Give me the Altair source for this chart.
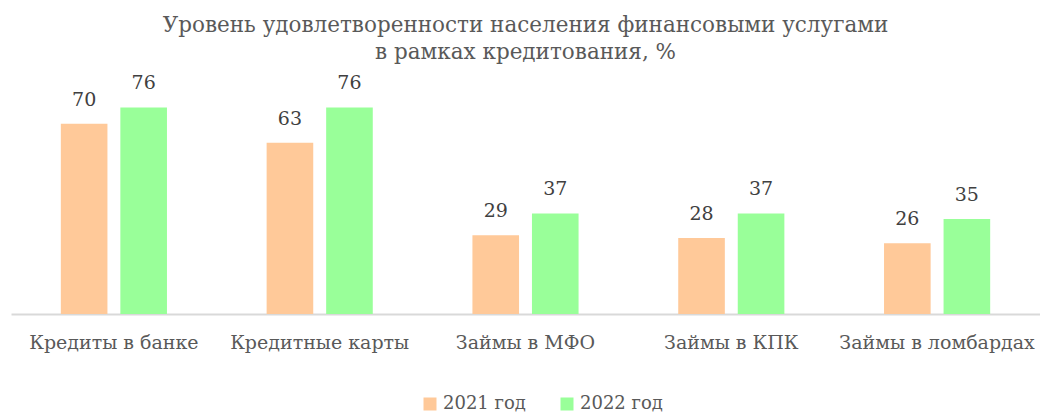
import altair as alt
import pandas as pd

categories = ["Кредиты в банке", "Кредитные карты", "Займы в МФО", "Займы в КПК", "Займы в ломбардах"]
years = ["2021 год", "2022 год"]
values_2021 = [70, 63, 29, 28, 26]
values_2022 = [76, 76, 37, 37, 35]
colors = ["#FFC999", "#99FF99"]

rows = []
for c, a, b in zip(categories, values_2021, values_2022):
    rows.append({"cat": c, "year": years[0], "value": a})
    rows.append({"cat": c, "year": years[1], "value": b})
df = pd.DataFrame(rows)

FONT = "DejaVu Serif"
GREY = "#595959"

x = alt.X("cat:N", sort=categories, title=None,
          scale=alt.Scale(paddingInner=0, paddingOuter=0),
          axis=alt.Axis(labelAngle=0, labelFont=FONT, labelFontSize=19, labelColor=GREY,
                        ticks=False, domainColor="#D9D9D9", domainWidth=2, labelPadding=19,
                        labelLimit=400))
xo = alt.XOffset("year:N", sort=years,
                 scale=alt.Scale(paddingInner=0.217, paddingOuter=0.837))
y = alt.Y("value:Q", scale=alt.Scale(domain=[0, 85]), axis=None)

base = alt.Chart(df).encode(x=x, xOffset=xo, y=y)

bars = base.mark_bar().encode(
    color=alt.Color("year:N", sort=years, scale=alt.Scale(domain=years, range=colors),
                    legend=alt.Legend(title=None, orient="none", direction="horizontal",
                                      legendX=410, legendY=312, padding=0,
                                      symbolType="square", symbolSize=169, symbolStrokeWidth=0,
                                      labelFont=FONT, labelFontSize=18, labelColor=GREY,
                                      columnPadding=32, symbolOffset=0))
)
labels = base.mark_text(baseline="alphabetic", dy=-18, font=FONT, fontSize=19, color="#404040").encode(
    text=alt.Text("value:Q")
)

chart = (bars + labels).properties(
    width=1029, height=231,
    padding={"left": 3, "right": 0, "top": 6, "bottom": 0},
    title=alt.TitleParams(
        text=["Уровень удовлетворенности населения финансовыми услугами", "в рамках кредитования, %"],
        font=FONT, fontSize=21.5, fontWeight="normal", color=GREY, anchor="middle",
        lineHeight=27, offset=11),
).configure_view(stroke=None)

chart.save("out.html", embed_options={"renderer": "svg", "actions": False})
